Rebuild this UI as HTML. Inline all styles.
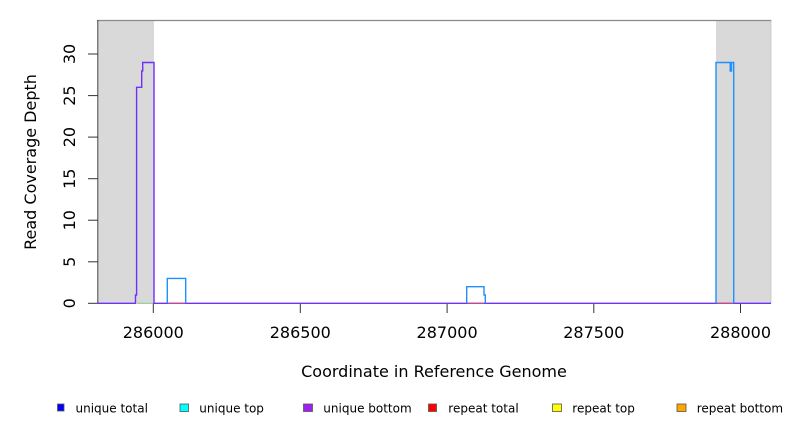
<!DOCTYPE html>
<html>
<head>
<meta charset="utf-8">
<style>
  html, body { margin: 0; padding: 0; background: #ffffff; }
  svg { display: block; }
  text { font-family: "DejaVu Sans", "Liberation Sans", sans-serif; fill: #000; }
</style>
</head>
<body>
<svg width="792" height="432" viewBox="0 0 792 432" xmlns="http://www.w3.org/2000/svg">
  <rect x="0" y="0" width="792" height="432" fill="#ffffff"/>

  <!-- shaded regions -->
  <rect x="97.5" y="20.5" width="56.5" height="283" fill="#d9d9d9"/>
  <rect x="716" y="20.5" width="55" height="283" fill="#d9d9d9"/>

  <!-- top border -->
  <line x1="97" y1="20.5" x2="771.5" y2="20.5" stroke="#8a8a8a" stroke-width="1.2"/>
  <line x1="771" y1="20.5" x2="771" y2="303.5" stroke="#c4c4c4" stroke-width="0.8"/>

  <!-- left axis -->
  <line x1="97.8" y1="20" x2="97.8" y2="303.5" stroke="#444" stroke-width="1"/>
  <g stroke="#333" stroke-width="1">
    <line x1="88" y1="303.3" x2="97.8" y2="303.3"/>
    <line x1="88" y1="261.8" x2="97.8" y2="261.8"/>
    <line x1="88" y1="220.2" x2="97.8" y2="220.2"/>
    <line x1="88" y1="178.7" x2="97.8" y2="178.7"/>
    <line x1="88" y1="137.1" x2="97.8" y2="137.1"/>
    <line x1="88" y1="95.6" x2="97.8" y2="95.6"/>
    <line x1="88" y1="54.0" x2="97.8" y2="54.0"/>
  </g>
  <g font-size="16" text-anchor="middle">
    <text transform="translate(75,303.3) rotate(-90)">0</text>
    <text transform="translate(75,261.8) rotate(-90)">5</text>
    <text transform="translate(75,220.2) rotate(-90)">10</text>
    <text transform="translate(75,178.7) rotate(-90)">15</text>
    <text transform="translate(75,137.1) rotate(-90)">20</text>
    <text transform="translate(75,95.6) rotate(-90)">25</text>
    <text transform="translate(75,54.0) rotate(-90)">30</text>
  </g>
  <text transform="translate(36,162) rotate(-90)" font-size="16" text-anchor="middle">Read Coverage Depth</text>

  <!-- bottom ticks -->
  <g stroke="#333" stroke-width="1">
    <line x1="153.3" y1="303.3" x2="153.3" y2="313"/>
    <line x1="300.3" y1="303.3" x2="300.3" y2="313"/>
    <line x1="447.1" y1="303.3" x2="447.1" y2="313"/>
    <line x1="593.8" y1="303.3" x2="593.8" y2="313"/>
    <line x1="740.5" y1="303.3" x2="740.5" y2="313"/>
  </g>
  <g font-size="16" text-anchor="middle">
    <text x="153.3" y="337.8">286000</text>
    <text x="300.3" y="337.8">286500</text>
    <text x="447.1" y="337.8">287000</text>
    <text x="593.8" y="337.8">287500</text>
    <text x="740.5" y="337.8">288000</text>
  </g>
  <text x="434" y="377" font-size="16" text-anchor="middle">Coordinate in Reference Genome</text>

  <!-- data: purple baseline + left peak -->
  <path d="M97.5,303.3 H135.5 V295 H136.6 V87.3 H141.7 V70.9 H142.7 V62.5 H154 V303.3 H771" fill="none" stroke="#7030f8" stroke-width="1.4"/>
  <!-- small colored underlying segments -->
  <line x1="137" y1="303.3" x2="153" y2="303.3" stroke="#7fc97f" stroke-width="1"/>
  <line x1="168" y1="303.3" x2="185" y2="303.3" stroke="#e0506a" stroke-width="1"/>
  <line x1="467.5" y1="303.3" x2="484" y2="303.3" stroke="#e0506a" stroke-width="1"/>
  <line x1="717" y1="303.3" x2="733" y2="303.3" stroke="#e0506a" stroke-width="1"/>

  <!-- blue series -->
  <g fill="none" stroke="#1e90ff" stroke-width="1.4">
    <path d="M167.3,303.3 V278.4 H185.7 V303.3"/>
    <path d="M466.7,303.3 V286.7 H484 V295 H485.3 V303.3"/>
    <path d="M716,303.3 V62.5 H730.2 V71 H731.5 V62.5 H733.7 V303.3"/>
  </g>

  <!-- legend -->
  <g stroke="#555" stroke-width="0.8">
    <rect x="57.5" y="404" width="6.5" height="7" fill="#0000ff"/>
    <rect x="180" y="404" width="8.5" height="7.5" fill="#00ffff"/>
    <rect x="303.5" y="404" width="9" height="7.5" fill="#a020f0"/>
    <rect x="428.5" y="404" width="8" height="7.5" fill="#ff0000"/>
    <rect x="552.5" y="404" width="9" height="7.5" fill="#ffff00"/>
    <rect x="677" y="404" width="9" height="7.5" fill="#ffa500"/>
  </g>
  <g font-size="12">
    <text x="75.5" y="412.5">unique total</text>
    <text x="199.3" y="412.5">unique top</text>
    <text x="323.3" y="412.5">unique bottom</text>
    <text x="448.3" y="412.5">repeat total</text>
    <text x="572.3" y="412.5">repeat top</text>
    <text x="696.7" y="412.5">repeat bottom</text>
  </g>
</svg>
</body>
</html>
